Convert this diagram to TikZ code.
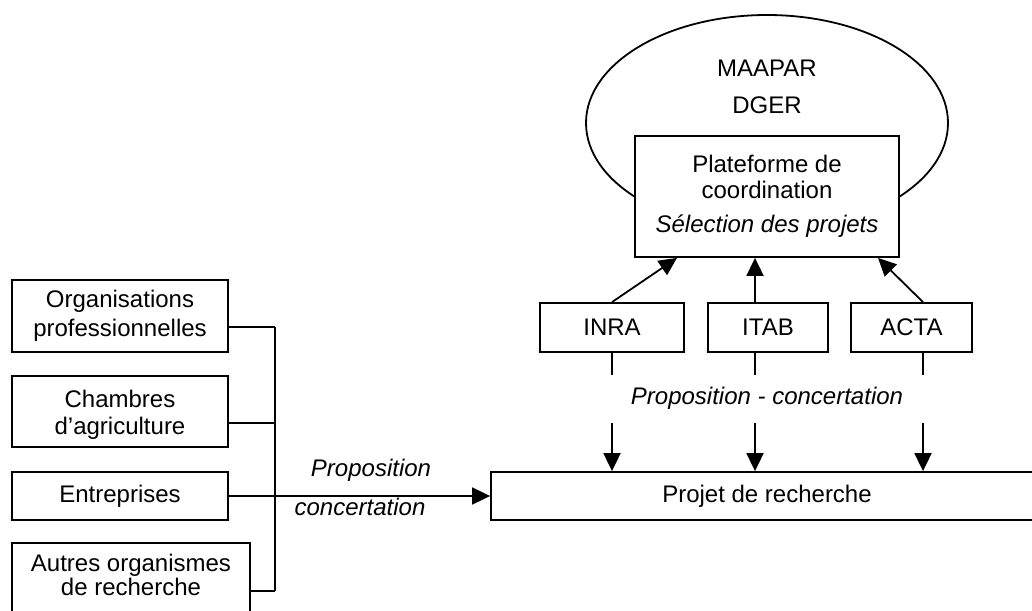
\documentclass[tikz,border=0pt]{standalone}
\usepackage{fontspec}
\setmainfont{Liberation Sans}
\usetikzlibrary{arrows.meta,shapes.geometric,calc}
\begin{document}
\begin{tikzpicture}[x=1pt,y=-1pt,
  line width=1.8pt,
  every node/.style={font=\fontsize{24}{28}\selectfont},
  box/.style={draw, fill=white, line width=1.8pt, inner sep=0pt, align=center},
  lbl/.style={inner sep=0pt, align=center},
  arr/.style={-{Triangle[length=18pt,width=17pt]}},
  ]
\useasboundingbox (0,0) rectangle (1032,610);

% ellipse and platform
\node[draw, ellipse, line width=1.8pt, inner sep=0pt, minimum width=362pt, minimum height=216pt] (min) at (767,123) {};
\node[lbl] (mintxt) at (767,86.5) {MAAPAR\\[9pt]DGER};
\node[box, minimum width=264pt, minimum height=121pt, font=\fontsize{24}{26}\selectfont] (plat) at (767,196.5)
  {Plateforme de\\coordination\\[8pt]\textit{Sélection des projets}};

% institutes
\node[box, minimum width=144pt, minimum height=49pt] (inra) at (612,327.5) {INRA};
\node[box, minimum width=120pt, minimum height=49pt] (itab) at (768,327.5) {ITAB};
\node[box, minimum width=121pt, minimum height=49pt] (acta) at (911.5,327.5) {ACTA};

% project
\node[box, minimum width=552pt, minimum height=48pt] (projet) at (767,496) {Projet de recherche};

% left boxes
\node[box, minimum width=216pt, minimum height=72pt, font=\fontsize{24}{29}\selectfont] (o1) at (120,316) {Organisations\\professionnelles};
\node[box, minimum width=216pt, minimum height=71pt] (o2) at (120,411.5) {};
\node[lbl, font=\fontsize{24}{27}\selectfont] (o2txt) at (120,414.5) {Chambres\\d’agriculture};
\node[box, minimum width=216pt, minimum height=48pt] (o3) at (120,496) {Entreprises};
\node[box, minimum width=238pt, minimum height=76pt] (o4) at (131,581) {};
\node[lbl, font=\fontsize{24}{24}\selectfont] (o4txt) at (131,575) {Autres organismes\\de recherche};

% labels
\node[lbl, font=\fontsize{24}{28}\selectfont\itshape] (pc) at (767,398) {Proposition - concertation};
\node[lbl, font=\fontsize{24}{28}\selectfont\itshape] (p1) at (371,470) {Proposition};
\node[lbl, font=\fontsize{24}{28}\selectfont\itshape] (p2) at (360,507) {concertation};

% bus
\coordinate (j1) at (275,327);
\coordinate (j2) at (275,423);
\coordinate (j3) at (275,496);
\coordinate (j4) at (275,591);
\draw (o1.east |- j1) -- (j1);
\draw (o2.east |- j2) -- (j2);
\draw (o4.east |- j4) -- (j4);
\draw (j1) -- (j4);
\draw[arr] (o3.east) -- (projet.west);

% up arrows
\coordinate (e1) at (677,257);
\coordinate (e3) at (878,257);
\coordinate (d2a) at (755,375);
\coordinate (d2b) at (755,423);
\coordinate (d1a) at (612,375);
\coordinate (d1b) at (612,423);
\coordinate (d3a) at (923,375);
\coordinate (d3b) at (923,423);
\draw[arr] (inra.north) -- (e1 |- plat.south);
\draw[arr] (d2a |- itab.north) -- (d2a |- plat.south);
\draw[arr] (d3a |- acta.north) -- (e3 |- plat.south);

% down arrows
\draw (d1a |- inra.south) -- (d1a);
\draw[arr] (d1b) -- (d1b |- projet.north);
\draw (d2a |- itab.south) -- (d2a);
\draw[arr] (d2b) -- (d2b |- projet.north);
\draw (d3a |- acta.south) -- (d3a);
\draw[arr] (d3b) -- (d3b |- projet.north);
\end{tikzpicture}
\end{document}
